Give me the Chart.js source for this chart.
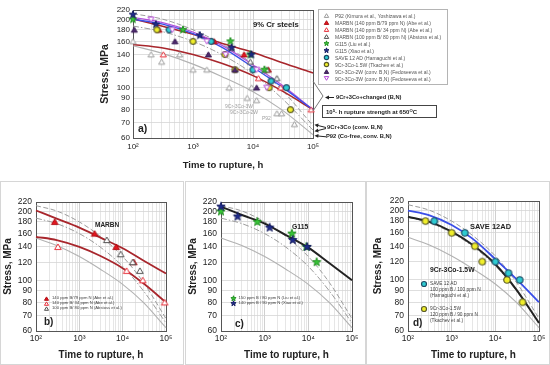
<!DOCTYPE html>
<html><head><meta charset="utf-8">
<script src="https://cdn.jsdelivr.net/npm/chart.js@4.4.1/dist/chart.umd.min.js"></script>
<style>
html,body{margin:0;padding:0;background:#fff;}
body{width:550px;height:365px;position:relative;overflow:hidden;font-family:"Liberation Sans",Arial,Helvetica,sans-serif;color:#222;}
canvas.pc{position:absolute;}
.t{position:absolute;white-space:nowrap;line-height:1;transform:translateY(-50%);}
.frame{position:absolute;border:1px solid #d6d6d6;box-sizing:border-box;}
.lg{position:absolute;border:1px solid #b4b4b4;background:#fff;box-sizing:border-box;}
.box{position:absolute;border:1px solid #444;background:#fff;box-sizing:border-box;}
svg.ov{position:absolute;left:0;top:0;}
sup{font-size:70%;line-height:0;vertical-align:0.45em;}
</style></head><body>
<div class="frame" style="left:0;top:181px;width:184px;height:184px"></div>
<div class="frame" style="left:185px;top:181px;width:181px;height:184px"></div>
<div class="frame" style="left:366px;top:181px;width:184px;height:184px"></div>
<canvas id="ca" class="pc" width="230" height="175" style="left:95px;top:0px"></canvas>
<canvas id="cb" class="pc" width="183" height="180" style="left:0px;top:185px"></canvas>
<canvas id="cc" class="pc" width="180" height="180" style="left:185px;top:185px"></canvas>
<canvas id="cd" class="pc" width="180" height="180" style="left:370px;top:185px"></canvas>
<div id="txt"></div>
<svg class="ov" width="550" height="365">
  <polyline points="313,81 323,96 313,111" fill="none" stroke="#777" stroke-width="1"/>
  <line x1="334" y1="97.5" x2="328" y2="97.5" stroke="#222" stroke-width="1"/>
  <polygon points="325,97.5 329,95.6 329,99.4" fill="#222"/>
  <line x1="326" y1="127.5" x2="318" y2="125.5" stroke="#222" stroke-width="1"/>
  <polygon points="314.5,124.7 318.6,123.6 317.8,127.4" fill="#222"/>
  <line x1="326" y1="128.5" x2="318" y2="130.5" stroke="#222" stroke-width="1"/>
  <polygon points="314.5,131.3 317.8,128.6 318.6,132.4" fill="#222"/>
  <line x1="326" y1="136.8" x2="318" y2="136" stroke="#222" stroke-width="1"/>
  <polygon points="314.5,135.7 318.5,133.9 318.2,137.8" fill="#222"/>
</svg>
<script>
// ---------------- data ----------------
const X_GRID = [100,200,300,400,500,600,700,800,900,1000,2000,3000,4000,5000,6000,7000,8000,9000,
  10000,20000,30000,40000,50000,60000,70000,80000,90000,100000];
const X_DECADES = [100, 1000, 10000, 100000];
const X_TICK_LABELS = ['10²', '10³', '10⁴', '10⁵'];
const Y_TICKS = [60, 70, 80, 90, 100, 120, 140, 160, 180, 200, 220];

// times at which the fitted curves are read
const CURVE_T = [100, 300, 1000, 3000, 10000, 30000, 100000];
const REF_3W  = [212, 201, 180, 156, 127, 98, 68];   // 9Cr-3Co-3W (conv. B,N)
const REF_2W  = [187, 177, 160, 140, 115, 90, 65];   // 9Cr-3Co-2W (conv. B,N)
const REF_P92 = [153, 142, 127, 112, 96, 80, 62];    // P92
const A_MARBN_HI = [201, 187, 172, 157, 143, 129, 116];
const MARBN_LO   = [155, 150, 140, 128, 113, 97, 80];
const SAVE_CURVE = [200, 191, 173, 151, 123, 101, 80];
const A_3W_NEW   = [204, 194, 176, 154, 126, 103, 80];
const B_MARBN_HI = [202, 186, 170, 154, 138, 122, 107];
const C_G115     = [210, 193, 177, 158, 139, 119, 100];
const D_W15      = [188, 179, 162, 142, 117, 91, 65];

// experimental points (time h, stress MPa)
const P92_T = [100, 200, 300, 600, 1000, 1700, 4000, 8000, 9500, 11500, 25000, 30000, 49000];
const P92_S = [160, 140, 130, 140, 120, 120, 100, 90, 100, 88, 77, 77, 69];
const MARBN_HI_T = [270, 2250, 7100, 18000];
const MARBN_HI_S = [180, 160, 140, 120];
const MARBN_LO_T = [320, 12300, 29000, 93000];
const MARBN_LO_S = [140, 110, 100, 80];
const MARBN_100_T = [4300, 9000, 17000, 25000];
const MARBN_100_S = [150, 130, 120, 110];
const G115_LIU_T = [100, 680, 4200, 9000, 15500];
const G115_LIU_S = [200, 180, 160, 140, 120];
const G115_XIAO_T = [100, 240, 1300, 4400, 9400];
const G115_XIAO_S = [210, 190, 170, 150, 140];
const SAVE_T = [400, 2000, 10000, 20000, 36000];
const SAVE_S = [180, 160, 120, 107, 100];
const W15_T = [250, 1000, 3400, 5000, 18500, 42000];
const W15_S = [180, 160, 140, 120, 100, 80];
const W2_T = [105, 500, 1800, 5000, 11500];
const W2_S = [180, 160, 140, 120, 100];
const W3_T = [200, 450, 1700, 3500, 11500, 17000];
const W3_S = [200, 180, 160, 140, 120, 100];

const LEGEND_A = [
  ['p92', 'P92 (Kimura et al., Yoshizawa et al.)'],
  ['marbnHi', 'MARBN (140 ppm B/79 ppm N) (Abe et al.)'],
  ['marbnLo', 'MARBN (140 ppm B/ 34 ppm N) (Abe et al.)'],
  ['marbn100', 'MARBN (100 ppm B/ 80 ppm N) (Abstoss et al.)'],
  ['g115Liu', 'G115 (Liu et al.)'],
  ['g115Xiao', 'G115 (Xiao et al.)'],
  ['save', 'SAVE 12 AD (Hamaguchi et al.)'],
  ['w15', '9Cr-3Co-1.5W (Tkachev et al.)'],
  ['w2', '9Cr-3Co-2W (conv. B,N) (Fedoseeva et al.)'],
  ['w3', '9Cr-3Co-3W (conv. B,N) (Fedoseeva et al.)']
];
const LEGEND_B = [
  ['marbnHi', '140 ppm B/79 ppm N (Abe et al.)'],
  ['marbnLo', '140 ppm B/ 34 ppm N (Abe et al.)'],
  ['marbn100', '100 ppm B/ 80 ppm N (Abstoss et al.)']
];
const LEGEND_C = [
  ['g115Liu', '150 ppm B / 80 ppm N (Liu et al.)'],
  ['g115Xiao', '140 ppm B / 90 ppm N (Xiao et al.)']
];
const LEGEND_D = [
  ['save', ['SAVE 12 AD', '100 ppm B / 100 ppm N', '(Hamaguchi et al.)']],
  ['w15', ['9Cr-3Co-1.5W', '120 ppm B / 90 ppm N', '(Tkachev et al.)']]
];

// ---------------- styles ----------------
const FF = '"Liberation Sans", Arial, sans-serif';
const MK = {
  p92: ['tri', '#ffffff', '#9c9c9c'],
  marbnHi: ['tri', '#e3161f', '#b00d14'],
  marbnLo: ['tri', '#ffffff', '#e6303a'],
  marbn100: ['tri', '#ffffff', '#505050'],
  g115Liu: ['star', '#36c436', '#1f8f1f'],
  g115Xiao: ['star', '#1e2a8c', '#141c60'],
  save: ['circ', '#2ecbd2', '#1d4a63'],
  w15: ['circ', '#f0ee2a', '#5a5a2a'],
  w2: ['tri', '#4d2a6e', '#3a1c55'],
  w3: ['tridown', '#ffffff', '#b548d8']
};
const BROWN = '#a8262c', BLUE = '#3a4ee8', PURPLE = '#b052dc', GRAYD = '#9c9c9c', GRAYS = '#b2b2b2';

function marker(key, r) {
  const [shape, fill, stroke] = MK[key];
  const s = Math.ceil(2 * r + 4);
  const c = document.createElement('canvas');
  c.width = s; c.height = s;
  const g = c.getContext('2d');
  const cx = s / 2, cy = s / 2 + (shape === 'tri' ? 0.6 : shape === 'tridown' ? -0.6 : 0);
  g.beginPath();
  if (shape === 'tri' || shape === 'tridown') {
    const d = shape === 'tri' ? -1 : 1;
    g.moveTo(cx, cy + d * r);
    g.lineTo(cx + r * 0.92, cy - d * r * 0.55);
    g.lineTo(cx - r * 0.92, cy - d * r * 0.55);
    g.closePath();
  } else if (shape === 'star') {
    for (let i = 0; i < 10; i++) {
      const a = -Math.PI / 2 + i * Math.PI / 5;
      const rr = i % 2 ? r * 0.45 : r * 1.1;
      g.lineTo(cx + rr * Math.cos(a), cy + rr * Math.sin(a));
    }
    g.closePath();
  } else {
    g.arc(cx, cy, r * 0.9, 0, Math.PI * 2);
  }
  g.fillStyle = fill; g.fill();
  g.lineWidth = shape === 'circ' ? 1.2 : 1;
  g.strokeStyle = stroke; g.stroke();
  return c;
}

function pts(T, S) { return T.map((t, i) => ({ x: t, y: S[i] })); }
function curve(arr) { return CURVE_T.map((t, i) => ({ x: t, y: arr[i] })); }
function pointDS(key, T, S, r) {
  return { data: pts(T, S), pointStyle: marker(key, r), pointRadius: r, showLine: false, clip: false };
}
function lineDS(arr, color, w, dash) {
  return { data: curve(arr), borderColor: color, borderWidth: w, borderDash: dash || [],
    pointRadius: 0, showLine: true, fill: false, cubicInterpolationMode: 'monotone', clip: false };
}
function grayDS() {
  return [
    lineDS(REF_3W, GRAYD, 1, [5, 2.5]),
    lineDS(REF_2W, GRAYD, 1, [6, 2, 1.5, 2]),
    lineDS(REF_P92, GRAYS, 1.1)
  ];
}

const framePlugin = {
  id: 'frame',
  beforeDatasetsDraw(chart) {
    const { ctx, chartArea: a } = chart;
    ctx.save();
    ctx.strokeStyle = '#555'; ctx.lineWidth = 1;
    ctx.strokeRect(Math.round(a.left) + 0.5, Math.round(a.top) + 0.5,
      Math.round(a.right - a.left), Math.round(a.bottom - a.top));
    ctx.restore();
  }
};

function build(id, L, datasets) {
  const yFont = { size: L.yt, weight: 'bold', family: FF, lineHeight: 1.2 };
  const xFont = { size: L.xt, weight: 'bold', family: FF, lineHeight: 1.2 };
  new Chart(document.getElementById(id), {
    type: 'scatter',
    data: { datasets },
    plugins: [framePlugin],
    options: {
      responsive: false, animation: false, devicePixelRatio: 1, events: [],
      layout: { padding: { left: 0, right: L.padR, top: L.padT, bottom: 0 } },
      plugins: { legend: { display: false }, tooltip: { enabled: false } },
      scales: {
        x: {
          type: 'logarithmic', min: 100, max: 100000,
          afterBuildTicks: s => { s.ticks = X_GRID.map(v => ({ value: v })); },
          afterFit: s => { s.height = L.xh; },
          ticks: {
            autoSkip: false, maxRotation: 0, minRotation: 0, padding: L.xpad, color: '#222',
            font: { size: L.tick, family: FF },
            callback: v => { const i = X_DECADES.indexOf(v); return i >= 0 ? X_TICK_LABELS[i] : ''; }
          },
          grid: { drawTicks: false, lineWidth: 0.8,
            color: c => (c.tick && X_DECADES.includes(c.tick.value)) ? '#c4c4c4' : '#e0e0e0' },
          border: { display: true, color: '#555', width: 1 },
          title: { display: true, text: 'Time to rupture, h', color: '#222', font: xFont,
            padding: { top: 0, bottom: L.xtb } }
        },
        y: {
          type: 'logarithmic', min: 60, max: 220,
          afterBuildTicks: s => { s.ticks = Y_TICKS.map(v => ({ value: v })); },
          afterFit: s => { s.width = L.yw; },
          ticks: { autoSkip: false, padding: L.ypad, color: '#222', font: { size: L.tick, family: FF },
            callback: v => String(v) },
          grid: { drawTicks: false, lineWidth: 0.8, color: '#d6d6d6' },
          border: { display: true, color: '#555', width: 1 },
          title: { display: true, text: 'Stress, MPa', color: '#222', font: yFont,
            padding: { top: L.ytp, bottom: 0 } }
        }
      }
    }
  });
}

// ---------------- panel a ----------------
build('ca', { padR: 12, padT: 10, xh: 37, yw: 38, tick: 8, xpad: 4, ypad: 3, xt: 9.5, yt: 10.5, xtb: 4.3, ytp: 3.7 }, [
  pointDS('w3', W3_T, W3_S, 3.3),
  pointDS('w2', W2_T, W2_S, 3.3),
  pointDS('w15', W15_T, W15_S, 3.3),
  pointDS('save', SAVE_T, SAVE_S, 3.3),
  pointDS('g115Xiao', G115_XIAO_T, G115_XIAO_S, 3.6),
  pointDS('g115Liu', G115_LIU_T, G115_LIU_S, 3.6),
  pointDS('marbn100', MARBN_100_T, MARBN_100_S, 3.3),
  pointDS('marbnLo', MARBN_LO_T, MARBN_LO_S, 3.3),
  pointDS('marbnHi', MARBN_HI_T, MARBN_HI_S, 3.3),
  pointDS('p92', P92_T, P92_S, 3.3),
  lineDS(SAVE_CURVE, BLUE, 1.4),
  lineDS(A_3W_NEW, PURPLE, 1.2),
  lineDS(A_MARBN_HI, BROWN, 1.6),
  lineDS(MARBN_LO, BROWN, 1.6),
  ...grayDS()
]);

// ---------------- panel b ----------------
build('cb', { padR: 17, padT: 17, xh: 34, yw: 36, tick: 8.5, xpad: 3, ypad: 4, xt: 10, yt: 10, xtb: 4, ytp: 2.3 }, [
  pointDS('marbn100', MARBN_100_T, MARBN_100_S, 3.6),
  pointDS('marbnLo', MARBN_LO_T, MARBN_LO_S, 3.6),
  pointDS('marbnHi', MARBN_HI_T, MARBN_HI_S, 3.6),
  lineDS(B_MARBN_HI, BROWN, 1.8),
  lineDS(MARBN_LO, BROWN, 1.8),
  ...grayDS()
]);

// ---------------- panel c ----------------
build('cc', { padR: 13, padT: 17, xh: 34, yw: 36, tick: 8.5, xpad: 3, ypad: 4, xt: 10, yt: 10, xtb: 4, ytp: 2 }, [
  pointDS('g115Xiao', G115_XIAO_T, G115_XIAO_S, 4),
  pointDS('g115Liu', G115_LIU_T, G115_LIU_S, 4),
  lineDS(C_G115, '#222', 2),
  ...grayDS()
]);

// ---------------- panel d ----------------
build('cd', { padR: 11, padT: 16, xh: 34, yw: 38, tick: 8.5, xpad: 3, ypad: 4, xt: 10, yt: 10, xtb: 4, ytp: 2 }, [
  pointDS('save', SAVE_T, SAVE_S, 3.6),
  pointDS('w15', W15_T, W15_S, 3.6),
  lineDS(SAVE_CURVE, BLUE, 1.8),
  lineDS(D_W15, '#222', 2),
  ...grayDS()
]);

// ---------------- texts ----------------
const host = document.getElementById('txt');
function T(html, x, y, size, bold, color) {
  const d = document.createElement('div');
  d.className = 't';
  d.style.left = x + 'px'; d.style.top = y + 'px';
  d.style.fontSize = size + 'px';
  if (bold) d.style.fontWeight = 'bold';
  d.style.color = color || '#222';
  d.innerHTML = html;
  host.appendChild(d);
  return d;
}
function M(key, r, x, y) {
  const c = marker(key, r);
  c.style.position = 'absolute';
  c.style.left = (x - c.width / 2) + 'px';
  c.style.top = (y - c.height / 2) + 'px';
  host.appendChild(c);
}

// panel a
T('9% Cr steels', 253, 25, 7.7, true);
T('a)', 138, 128, 10.5, true);
T('9Cr-3Co-3W', 225, 106, 5, false, '#a0a0a0');
T('9Cr-3Co-2W', 230, 112, 5, false, '#a0a0a0');
T('P92', 262, 118, 5, false, '#a0a0a0');
const lg = document.createElement('div');
lg.className = 'lg';
lg.style.cssText = 'left:318px;top:9px;width:130px;height:76px;';
host.appendChild(lg);
LEGEND_A.forEach(([k, label], i) => {
  const y = 15.7 + i * 7;
  M(k, 2.4, 326.7, y);
  T(label, 335, y, 5, false, '#555');
});
T('9Cr+3Co+changed (B,N)', 336, 97.5, 5.7, true);
const bx = document.createElement('div');
bx.className = 'box';
bx.style.cssText = 'left:322px;top:105px;width:115px;height:13px;';
host.appendChild(bx);
T('10<sup>5</sup>- h rupture strength at 650<sup>O</sup>C', 326, 111.5, 6, true);
T('9Cr+3Co (conv. B,N)', 327, 127.7, 5.8, true);
T('P92 (Co-free, conv. B,N)', 326, 136.8, 5.8, true);

// panel b
T('MARBN', 95, 225, 6.5, true);
T('b)', 44, 322, 10, true);
LEGEND_B.forEach(([k, label], i) => {
  const y = 298.3 + i * 5;
  M(k, 2.2, 46.7, y);
  T(label, 52, y, 4.2, false, '#444');
});

// panel c
T('G115', 292, 227, 6.8, true);
T('c)', 235, 324, 10, true);
LEGEND_C.forEach(([k, label], i) => {
  const y = 298.3 + i * 5;
  M(k, 2.5, 233.3, y);
  T(label, 238.5, y, 4.2, false, '#444');
});

// panel d
T('SAVE 12AD', 470, 227, 7.5, true);
T('9Cr-3Co-1.5W', 430, 270, 6.8, true);
T('d)', 413, 323, 10, true);
LEGEND_D.forEach(([k, lines], i) => {
  const y0 = 284 + i * 25;
  M(k, 2.8, 424, y0);
  lines.forEach((s, j) => T(s, 430, y0 + j * 6, 4.8, false, '#444'));
});
</script>
</body></html>
